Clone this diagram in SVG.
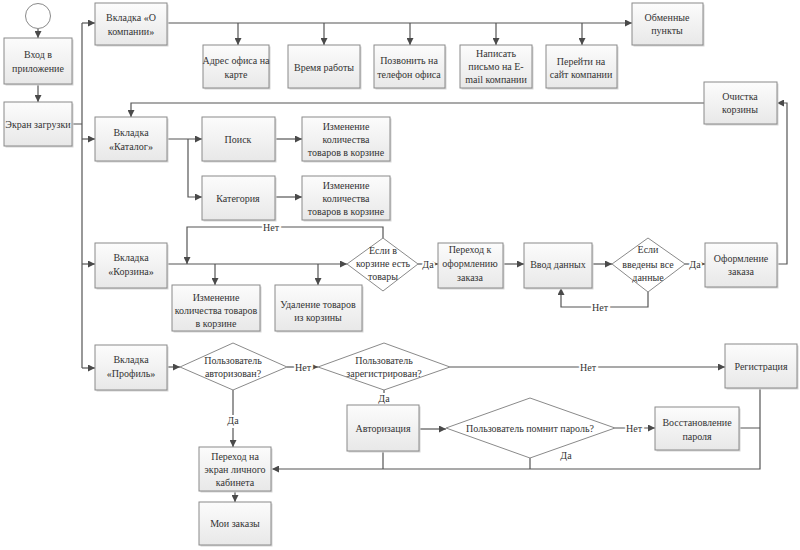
<svg xmlns="http://www.w3.org/2000/svg" width="800" height="550" viewBox="0 0 800 550" font-family="'Liberation Serif', 'DejaVu Serif', serif">
<defs>
<linearGradient id="g" x1="0" y1="0" x2="0" y2="1"><stop offset="0" stop-color="#fcfcfc"/><stop offset="1" stop-color="#e8e8e8"/></linearGradient>
<marker id="a" viewBox="0 0 10 10" refX="10" refY="5" markerWidth="7" markerHeight="7" orient="auto" markerUnits="userSpaceOnUse"><path d="M0,0 L10,5 L0,10 z" fill="#4a4a4a"/></marker>
<style>
.b rect{fill:url(#g);stroke:#8a8a8a;stroke-width:1}
.b .s{fill:#d6d6d6;stroke:none}
.d polygon{fill:#ffffff;stroke:#8a8a8a;stroke-width:1}
text{font-family:'Liberation Serif','DejaVu Serif',serif;font-size:10px;fill:#333;text-anchor:middle}
#connectors path{fill:none;stroke:#555;stroke-width:1.2}
.ar{marker-end:url(#a)}
.lb{paint-order:stroke;stroke:#fff;stroke-width:4px}
</style>
</defs>
<rect width="800" height="550" fill="#fff"/>
<g id="connectors">
<path class="ar" d="M38,29 V38"/>
<path class="ar" d="M38,84 V102"/>
<path d="M72,124 H82 M82,23 V368"/>
<path class="ar" d="M82,23 H95"/>
<path class="ar" d="M82,139 H95"/>
<path class="ar" d="M82,264 H95"/>
<path class="ar" d="M82,368 H95"/>
<path class="ar" d="M167,23 H632"/>
<path class="ar" d="M238,23 V45"/>
<path class="ar" d="M324,23 V45"/>
<path class="ar" d="M410,23 V45"/>
<path class="ar" d="M496,23 V45"/>
<path class="ar" d="M582,23 V45"/>
<path class="ar" d="M167,139 H202"/>
<path class="ar" d="M188,139 V197 H202"/>
<path class="ar" d="M275,139 H302"/>
<path class="ar" d="M275,197 H302"/>
<path class="ar" d="M704,103 H131 V117"/>
<path class="ar" d="M777,264 H787 V103 H777"/>
<path class="ar" d="M167,264 H347"/>
<path class="ar" d="M215,264 V285"/>
<path class="ar" d="M318,264 V285"/>
<path class="ar" d="M383,238 V227 H187 V264"/>
<path class="ar" d="M418,264 H438"/>
<path class="ar" d="M503,264 H524"/>
<path class="ar" d="M592,264 H612"/>
<path class="ar" d="M685,264 H705"/>
<path class="ar" d="M648,292 V307 H561 V288"/>
<path class="ar" d="M167,367 H180"/>
<path class="ar" d="M287,367 H318"/>
<path class="ar" d="M233,390 V447"/>
<path class="ar" d="M384,390 V405"/>
<path class="ar" d="M450,367 H725"/>
<path class="ar" d="M419,429 H446"/>
<path class="ar" d="M615,428 H655"/>
<path d="M739,428 H760 M383,451 V469 M530,458 V469"/>
<path class="ar" d="M760,388 V469 H272"/>
<path class="ar" d="M235,491 V502"/>
<text class="lb" x="271" y="231">Нет</text>
<text class="lb" x="428" y="268">Да</text>
<text class="lb" x="695" y="268">Да</text>
<text class="lb" x="600" y="311">Нет</text>
<text class="lb" x="303" y="371">Нет</text>
<text class="lb" x="233" y="424">Да</text>
<text class="lb" x="384" y="402">Да</text>
<text class="lb" x="588" y="371">Нет</text>
<text class="lb" x="634" y="432">Нет</text>
<text x="566" y="459">Да</text>
</g>
<g id="start"><circle cx="38" cy="16" r="12.5" fill="#fff" stroke="#8a8a8a"/></g>
<g id="n-vhod" class="b"><rect class="s" x="5.5" y="39.5" width="68" height="46"/><rect x="4" y="38" width="68" height="46"/><text x="38" y="58">Вход в</text><text x="38" y="72">приложение</text></g>
<g id="n-zagr" class="b"><rect class="s" x="5.5" y="103.5" width="68" height="44"/><rect x="4" y="102" width="68" height="44"/><text x="38" y="128">Экран загрузки</text></g>
<g id="n-okomp" class="b"><rect class="s" x="96.5" y="4.5" width="72" height="42"/><rect x="95" y="3" width="72" height="42"/><text x="131" y="21">Вкладка «О</text><text x="131" y="35">компании»</text></g>
<g id="n-adres" class="b"><rect class="s" x="204.5" y="46.5" width="66" height="43"/><rect x="203" y="45" width="66" height="43"/><text x="236" y="64">Адрес офиса на</text><text x="236" y="78">карте</text></g>
<g id="n-vremya" class="b"><rect class="s" x="289.5" y="46.5" width="72" height="43"/><rect x="288" y="45" width="72" height="43"/><text x="324" y="71">Время работы</text></g>
<g id="n-zvonok" class="b"><rect class="s" x="375.5" y="46.5" width="71" height="43"/><rect x="374" y="45" width="71" height="43"/><text x="409" y="64">Позвонить на</text><text x="409" y="78">телефон офиса</text></g>
<g id="n-pismo" class="b"><rect class="s" x="461.5" y="46.5" width="72" height="43"/><rect x="460" y="45" width="72" height="43"/><text x="496" y="57">Написать</text><text x="496" y="70">письмо на E-</text><text x="496" y="83">mail компании</text></g>
<g id="n-sait" class="b"><rect class="s" x="547.5" y="46.5" width="71" height="43"/><rect x="546" y="45" width="71" height="43"/><text x="581" y="65">Перейти на</text><text x="581" y="78">сайт компании</text></g>
<g id="n-obmen" class="b"><rect class="s" x="633.5" y="4.5" width="71" height="42"/><rect x="632" y="3" width="71" height="42"/><text x="667" y="21">Обменные</text><text x="667" y="34">пункты</text></g>
<g id="n-ochistka" class="b"><rect class="s" x="705.5" y="83.5" width="73" height="42"/><rect x="704" y="82" width="73" height="42"/><text x="740" y="100">Очистка</text><text x="740" y="113">корзины</text></g>
<g id="n-katalog" class="b"><rect class="s" x="96.5" y="118.5" width="72" height="44"/><rect x="95" y="117" width="72" height="44"/><text x="131" y="136">Вкладка</text><text x="131" y="150">«Каталог»</text></g>
<g id="n-poisk" class="b"><rect class="s" x="203.5" y="118.5" width="73" height="44"/><rect x="202" y="117" width="73" height="44"/><text x="238" y="143">Поиск</text></g>
<g id="n-izm1" class="b"><rect class="s" x="303.5" y="118.5" width="88" height="44"/><rect x="302" y="117" width="88" height="44"/><text x="346" y="130">Изменение</text><text x="346" y="143">количества</text><text x="346" y="156">товаров в корзине</text></g>
<g id="n-kateg" class="b"><rect class="s" x="203.5" y="177.5" width="73" height="44"/><rect x="202" y="176" width="73" height="44"/><text x="238" y="202">Категория</text></g>
<g id="n-izm2" class="b"><rect class="s" x="303.5" y="177.5" width="88" height="44"/><rect x="302" y="176" width="88" height="44"/><text x="346" y="189">Изменение</text><text x="346" y="202">количества</text><text x="346" y="215">товаров в корзине</text></g>
<g id="n-korzina" class="b"><rect class="s" x="96.5" y="244.5" width="72" height="45"/><rect x="95" y="243" width="72" height="45"/><text x="131" y="261">Вкладка</text><text x="131" y="275">«Корзина»</text></g>
<g id="n-izm3" class="b"><rect class="s" x="173.5" y="286.5" width="88" height="46"/><rect x="172" y="285" width="88" height="46"/><text x="216" y="301">Изменение</text><text x="216" y="314">количества товаров</text><text x="216" y="327">в корзине</text></g>
<g id="n-udal" class="b"><rect class="s" x="276.5" y="286.5" width="87" height="46"/><rect x="275" y="285" width="87" height="46"/><text x="318" y="308">Удаление товаров</text><text x="318" y="321">из корзины</text></g>
<g id="d-est" class="d"><polygon points="383,238 418,264 383,291 347,264"/><text x="383" y="254">Если в</text><text x="383" y="267">корзине есть</text><text x="383" y="280">товары</text></g>
<g id="n-perehod" class="b"><rect class="s" x="439.5" y="244.5" width="65" height="45"/><rect x="438" y="243" width="65" height="45"/><text x="470" y="253">Переход к</text><text x="470" y="267">оформлению</text><text x="470" y="281">заказа</text></g>
<g id="n-vvod" class="b"><rect class="s" x="525.5" y="244.5" width="68" height="45"/><rect x="524" y="243" width="68" height="45"/><text x="558" y="268">Ввод данных</text></g>
<g id="d-vvedeny" class="d"><polygon points="648,238 685,264 648,292 612,264"/><text x="648" y="253">Если</text><text x="648" y="268">введены все</text><text x="648" y="281">данные</text></g>
<g id="n-oform" class="b"><rect class="s" x="706.5" y="244.5" width="72" height="44"/><rect x="705" y="243" width="72" height="44"/><text x="741" y="262">Оформление</text><text x="741" y="275">заказа</text></g>
<g id="n-profil" class="b"><rect class="s" x="96.5" y="346.5" width="72" height="45"/><rect x="95" y="345" width="72" height="45"/><text x="131" y="363">Вкладка</text><text x="131" y="377">«Профиль»</text></g>
<g id="d-avtoriz" class="d"><polygon points="233,343 287,367 233,390 180,367"/><text x="233" y="364">Пользователь</text><text x="233" y="377">авторизован?</text></g>
<g id="d-zareg" class="d"><polygon points="384,343 450,367 384,390 318,367"/><text x="384" y="364">Пользователь</text><text x="384" y="377">зарегистрирован?</text></g>
<g id="n-registr" class="b"><rect class="s" x="726.5" y="345.5" width="72" height="44"/><rect x="725" y="344" width="72" height="44"/><text x="761" y="370">Регистрация</text></g>
<g id="n-avtorizaciya" class="b"><rect class="s" x="348.5" y="406.5" width="72" height="46"/><rect x="347" y="405" width="72" height="46"/><text x="383" y="432">Авторизация</text></g>
<g id="d-parol" class="d"><polygon points="530,398 615,428 530,458 446,428"/><text x="530" y="432">Пользователь помнит пароль?</text></g>
<g id="n-vosst" class="b"><rect class="s" x="656.5" y="408.5" width="84" height="43"/><rect x="655" y="407" width="84" height="43"/><text x="697" y="426">Восстановление</text><text x="697" y="440">пароля</text></g>
<g id="n-kabinet" class="b"><rect class="s" x="200.5" y="448.5" width="72" height="44"/><rect x="199" y="447" width="72" height="44"/><text x="235" y="460">Переход на</text><text x="235" y="473">экран личного</text><text x="235" y="486">кабинета</text></g>
<g id="n-zakazy" class="b"><rect class="s" x="200.5" y="503.5" width="72" height="43"/><rect x="199" y="502" width="72" height="43"/><text x="235" y="527">Мои заказы</text></g>
</svg>
